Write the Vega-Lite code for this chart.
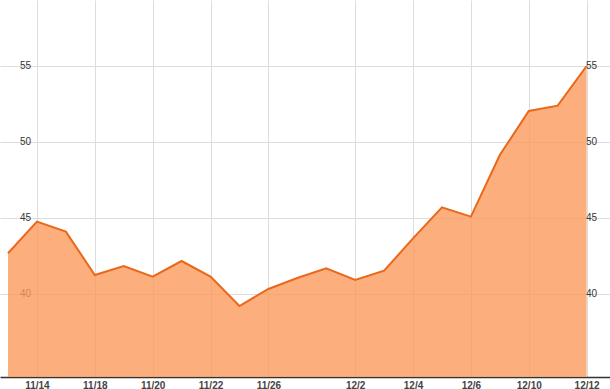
{
  "$schema": "https://vega.github.io/schema/vega-lite/v6.json",
  "width": 610,
  "height": 377,
  "padding": {"left": 0, "top": 0, "right": 0, "bottom": 12},
  "autosize": {"type": "none"},
  "background": "white",
  "config": {
    "view": {"stroke": null},
    "axis": {"labelFont": "Liberation Sans", "titleFont": "Liberation Sans"}
  },
  "data": {
    "values": [
      {"date": "11/13", "price": 42.68},
      {"date": "11/14", "price": 44.76},
      {"date": "11/15", "price": 44.10},
      {"date": "11/18", "price": 41.25},
      {"date": "11/19", "price": 41.84},
      {"date": "11/20", "price": 41.14},
      {"date": "11/21", "price": 42.17},
      {"date": "11/22", "price": 41.14},
      {"date": "11/25", "price": 39.21},
      {"date": "11/26", "price": 40.33},
      {"date": "11/27", "price": 41.05},
      {"date": "11/29", "price": 41.69},
      {"date": "12/2", "price": 40.92},
      {"date": "12/3", "price": 41.53},
      {"date": "12/4", "price": 43.66},
      {"date": "12/5", "price": 45.70},
      {"date": "12/6", "price": 45.09},
      {"date": "12/9", "price": 49.14},
      {"date": "12/10", "price": 52.04},
      {"date": "12/11", "price": 52.39},
      {"date": "12/12", "price": 55.0}
    ]
  },
  "encoding": {
    "x": {
      "field": "date",
      "type": "ordinal",
      "sort": null,
      "scale": {"type": "point", "padding": 0.5425, "align": 0.255},
      "axis": {
        "title": null,
        "values": ["11/14", "11/18", "11/20", "11/22", "11/26", "12/2", "12/4", "12/6", "12/10", "12/12"],
        "labelAngle": 0,
        "labelFontSize": 10,
        "labelFontWeight": "bold",
        "labelColor": "#444444",
        "labelPadding": 3,
        "ticks": false,
        "domain": true,
        "domainColor": "#333333",
        "domainWidth": 1.5,
        "grid": true,
        "gridColor": "#dddddd",
        "gridWidth": 1
      }
    }
  },
  "layer": [
    {
      "mark": {"type": "area", "color": "#FC9A5C", "opacity": 0.8, "clip": true},
      "encoding": {
        "y": {
          "field": "price",
          "type": "quantitative",
          "scale": {"domain": [34.54, 59.34], "nice": false, "zero": false},
          "axis": {
            "orient": "left",
            "title": null,
            "values": [40, 45, 50, 55],
            "ticks": false,
            "domain": false,
            "grid": true,
            "gridColor": "#dddddd",
            "labelAlign": "center",
            "labelBaseline": "middle",
            "labelPadding": -25,
            "labelFontSize": 10,
            "labelColor": "#333333"
          }
        }
      }
    },
    {
      "mark": {"type": "line", "color": "#E8691B", "strokeWidth": 2, "clip": true},
      "encoding": {
        "y": {
          "field": "price",
          "type": "quantitative",
          "axis": {
            "orient": "right",
            "title": null,
            "values": [40, 45, 50, 55],
            "ticks": false,
            "domain": false,
            "grid": false,
            "labelAlign": "center",
            "labelBaseline": "middle",
            "labelPadding": -19,
            "labelFontSize": 10,
            "labelColor": "#333333"
          }
        }
      }
    }
  ],
  "resolve": {"axis": {"y": "independent"}}
}
